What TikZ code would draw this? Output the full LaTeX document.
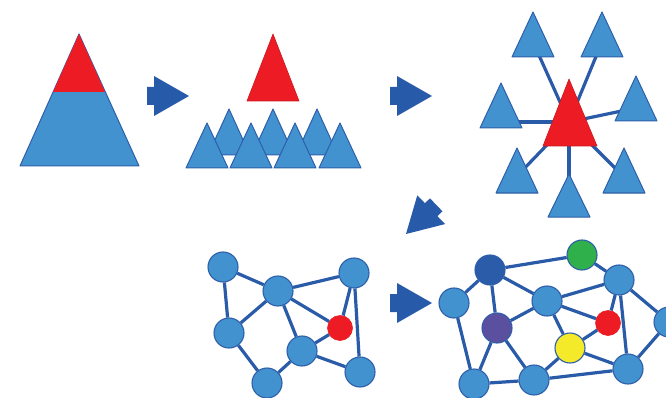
\documentclass[tikz,border=0pt]{standalone}
\begin{document}
\begin{tikzpicture}[x=1pt,y=-1pt,
  lb/.style={fill=lblue,draw=oblue,line width=1pt,line join=round},
  rt/.style={fill=myred,draw=myred!85!black,line width=0.6pt,line join=round},
  conn/.style={draw=cblue,line width=3.2pt},
  bnode/.style={circle,fill=lblue,draw=oblue,line width=1.1pt,minimum size=30pt,inner sep=0pt},
  rnode/.style={circle,fill=myred,draw=myred,line width=0.6pt,minimum size=25pt,inner sep=0pt},
  barrow/.style={fill=ablue,draw=none}]
\definecolor{lblue}{RGB}{66,146,208}
\definecolor{oblue}{RGB}{46,95,168}
\definecolor{cblue}{RGB}{42,91,168}
\definecolor{ablue}{RGB}{39,91,170}
\definecolor{myred}{RGB}{237,28,36}
\definecolor{mygreen}{RGB}{47,176,74}
\definecolor{myyellow}{RGB}{244,234,42}
\definecolor{mypurple}{RGB}{91,79,160}
\definecolor{dblue}{RGB}{42,92,170}
\useasboundingbox (0,0) rectangle (666,398);
\fill[white] (0,0) rectangle (666,398);
\def\arrowshape{(0,0) -- (-35,-20) -- (-35,-9) -- (-42,-9) -- (-42,9) -- (-35,9) -- (-35,20) -- cycle}
% Panel 1
\draw[lb] (79,34) -- (20,166) -- (139,166) -- cycle;
\fill[myred] (79,34) -- (53,92) -- (105,92) -- cycle;
% arrows
\begin{scope}[shift={(189,96)}] \fill[barrow] \arrowshape; \end{scope}
\begin{scope}[shift={(432,96)}] \fill[barrow] \arrowshape; \end{scope}
\begin{scope}[shift={(406,234)},rotate=224] \fill[barrow] \arrowshape; \end{scope}
\begin{scope}[shift={(432,303)}] \fill[barrow] \arrowshape; \end{scope}
% Panel 2
\draw[rt] (273,34) -- (247,101) -- (299,101) -- cycle;
\foreach \x in {229,273,317} { \draw[lb] (\x,109) -- (\x-21,155) -- (\x+21,155) -- cycle; }
\foreach \x in {207,251,295,340} { \draw[lb] (\x,123) -- (\x-21,168) -- (\x+21,168) -- cycle; }
% Panel 3
\coordinate (hub) at (569,122);
\coordinate (t1) at (533,42);
\coordinate (t2) at (602,42);
\coordinate (t3) at (501,122);
\coordinate (t4) at (636,108);
\coordinate (t5) at (518,175);
\coordinate (t6) at (569,200);
\coordinate (t7) at (622,175);
\foreach \t in {t1,t2,t3,t4,t5,t6,t7} { \draw[conn] (hub) -- (\t); }
\draw[lb] (533,12) -- (512,57) -- (554,57) -- cycle;
\draw[lb] (602,12) -- (581,57) -- (623,57) -- cycle;
\draw[lb] (501,83) -- (480,128) -- (522,128) -- cycle;
\draw[lb] (636,76) -- (615,121) -- (657,121) -- cycle;
\draw[lb] (517,148) -- (496,193) -- (538,193) -- cycle;
\draw[lb] (569,174) -- (548,217) -- (590,217) -- cycle;
\draw[lb] (624,148) -- (603,193) -- (645,193) -- cycle;
\draw[rt] (569,79) -- (543,146) -- (597,146) -- cycle;
% Panel 4
\node[bnode] (a) at (223,267) {};
\node[bnode] (b) at (278,291) {};
\node[bnode] (c) at (354,273) {};
\node[bnode] (d) at (229,333) {};
\node[rnode] (e) at (340,328) {};
\node[bnode] (f) at (302,351) {};
\node[bnode] (g) at (267,383) {};
\node[bnode] (h) at (360,372) {};
\foreach \u/\v in {a/b,a/d,b/c,b/d,b/f,b/e,c/e,c/h,e/f,d/g,g/f,f/h} { \draw[conn] (\u) -- (\v); }
% Panel 5
\node[bnode,fill=dblue] (p1) at (490,270) {};
\node[bnode,fill=mygreen] (p2) at (582,255) {};
\node[bnode] (p3) at (619,280) {};
\node[bnode] (p4) at (454,303) {};
\node[bnode] (p5) at (547,301) {};
\node[bnode] (p6) at (669,322) {};
\node[bnode,fill=mypurple] (p7) at (497,328) {};
\node[rnode] (p8) at (608,323) {};
\node[bnode,fill=myyellow] (p9) at (570,348) {};
\node[bnode] (p10) at (474,384) {};
\node[bnode] (p11) at (534,380) {};
\node[bnode] (p12) at (628,369) {};
\foreach \u/\v in {p1/p2,p1/p4,p1/p7,p1/p5,p2/p3,p3/p5,p3/p8,p3/p12,p3/p6,p6/p12,p4/p10,p7/p10,p7/p5,p7/p11,p5/p8,p5/p9,p9/p8,p9/p11,p9/p12,p10/p11,p11/p12} { \draw[conn] (\u) -- (\v); }
\end{tikzpicture}
\end{document}
